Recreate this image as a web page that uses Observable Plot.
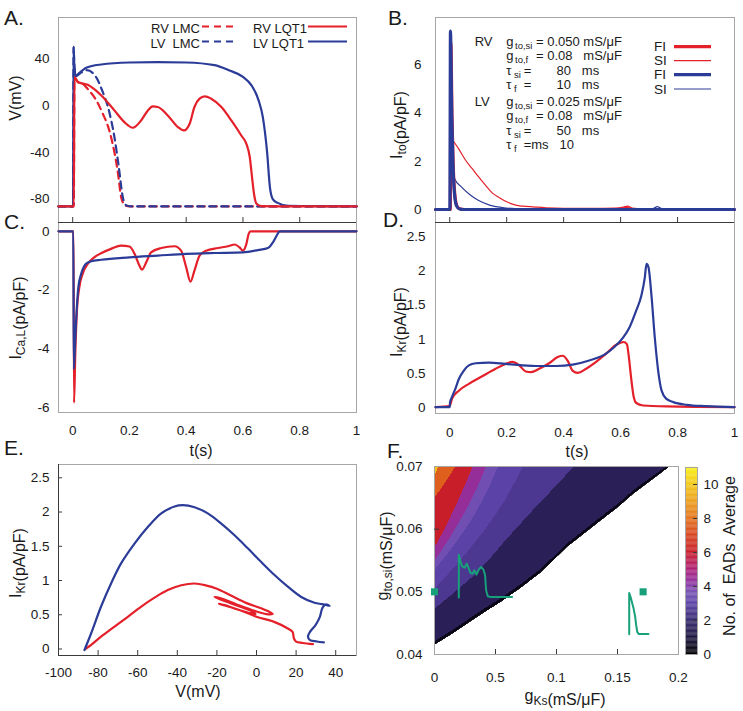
<!DOCTYPE html>
<html><head><meta charset="utf-8">
<script src="https://cdn.jsdelivr.net/npm/d3@7"></script>
<script src="https://cdn.jsdelivr.net/npm/@observablehq/plot@0.6"></script>
<style>
html,body{margin:0;padding:0;background:#fff;}
#fig{position:relative;width:743px;height:711px;overflow:hidden;background:#fff;font-family:'Liberation Sans',Arial,Helvetica,sans-serif;}
#ann{position:absolute;left:0;top:0;pointer-events:none;}
#ann text{white-space:pre;}
</style></head><body><div id="fig"></div>
<script>
// ---------------- DATA ----------------
// Panel A: membrane potential V (mV) vs t (s)
const tA_rvLQT1 = [-0.05, 0.004, 0.006, 0.01, 0.018, 0.053, 0.1, 0.147, 0.182, 0.212, 0.241, 0.265, 0.282, 0.3, 0.335, 0.371, 0.392, 0.412, 0.429, 0.447, 0.465, 0.488, 0.524, 0.559, 0.594, 0.612, 0.624, 0.632, 0.639, 0.647, 0.665, 0.75, 1];
const vA_rvLQT1 = [-86.3, -86.3, 24, 23, 20, 17.5, 8.6, -4.3, -14.3, -19.1, -12.9, -4.3, -0.9, -1.4, -8.6, -18.6, -21.4, -15.7, -1.4, 5.7, 7.7, 5.7, -1.4, -12.9, -25.7, -32.9, -44.3, -61.4, -75.7, -83.7, -86, -86.3, -86.3];
const tA_lvLQT1 = [-0.05, 0.0015, 0.003, 0.006, 0.011, 0.02, 0.05, 0.1, 0.2, 0.3, 0.4, 0.5, 0.55, 0.6, 0.63, 0.655, 0.67, 0.685, 0.695, 0.705, 0.72, 0.76, 1];
const vA_lvLQT1 = [-86.3, -86.3, 50, 33, 25, 27, 32.3, 34.9, 36.6, 36.9, 36.6, 34.3, 30, 24.3, 17.1, 4.3, -10, -40, -70, -80, -83, -85.7, -86.3];
const tA_rvLMC = [-0.05, 0.004, 0.006, 0.01, 0.018, 0.04, 0.055, 0.076, 0.106, 0.129, 0.147, 0.159, 0.171, 0.185, 0.2, 1];
const vA_rvLMC = [-86.3, -86.3, 24, 23, 20, 17.5, 13.4, 7.1, -7.1, -21.4, -40, -57, -78.6, -85.5, -86.3, -86.3];
const tA_lvLMC = [-0.05, 0.0015, 0.003, 0.006, 0.011, 0.03, 0.05, 0.082, 0.1035, 0.129, 0.147, 0.161, 0.178, 0.19, 0.21, 1];
const vA_lvLMC = [-86.3, -86.3, 50, 33, 25, 28, 30, 24.3, 12.9, -5.7, -27, -50, -80, -85.5, -86.3, -86.3];

// Panel B: Ito (pA/pF) vs t (s)
const tB_rvFI = [-0.05, 0.002, 0.004, 0.008, 0.012, 0.018, 0.025, 0.035, 0.05, 0.6, 0.62, 0.64, 1];
const vB_rvFI = [0, 0, 6.9, 3.8, 1.9, 0.6, 0.15, 0.03, 0, 0, 0.05, 0, 0];
const tB_lvFI = [-0.05, 0.0005, 0.0025, 0.007, 0.011, 0.017, 0.024, 0.034, 0.05, 1];
const vB_lvFI = [0, 0, 7.4, 4.0, 2.0, 0.6, 0.15, 0.02, 0, 0];
const tB_rvSI = [-0.05, 0.003, 0.006, 0.012, 0.032, 0.055, 0.079, 0.1, 0.126, 0.15, 0.173, 0.2, 0.22, 0.245, 0.267, 0.3, 0.338, 0.4, 0.5, 0.58, 0.61, 0.625, 0.64, 0.7, 1];
const vB_rvSI = [0, 0, 2.95, 2.85, 2.5, 2.05, 1.69, 1.37, 1.0, 0.68, 0.5, 0.32, 0.22, 0.15, 0.13, 0.1, 0.07, 0.05, 0.05, 0.06, 0.1, 0.14, 0.06, 0.02, 0.01];
const tB_lvSI = [-0.05, 0.001, 0.004, 0.01, 0.018, 0.04, 0.07, 0.1, 0.14, 0.2, 0.26, 0.35, 0.7, 0.718, 0.729, 0.742, 0.76, 1];
const vB_lvSI = [0, 0, 1.9, 1.6, 1.25, 0.95, 0.62, 0.38, 0.18, 0.06, 0.02, 0.01, 0.01, 0.06, 0.12, 0.05, 0.01, 0];

// Panel C: ICa,L (pA/pF) vs t (s)
const tC_rv = [-0.05, 0.003, 0.0047, 0.0094, 0.015, 0.0235, 0.035, 0.053, 0.076, 0.1, 0.135, 0.171, 0.2, 0.218, 0.235, 0.244, 0.259, 0.276, 0.312, 0.359, 0.382, 0.4, 0.415, 0.429, 0.447, 0.47, 0.512, 0.547, 0.571, 0.588, 0.6, 0.612, 0.62, 0.627, 1];
const vC_rv = [0, 0, -5.85, -4.07, -2.7, -1.9, -1.45, -1.11, -0.89, -0.75, -0.6, -0.49, -0.52, -0.77, -1.17, -1.31, -1.06, -0.72, -0.57, -0.51, -0.66, -1.23, -1.72, -1.34, -0.83, -0.66, -0.57, -0.51, -0.45, -0.55, -0.66, -0.43, -0.09, 0, 0];
const tC_lv = [-0.05, 0.002, 0.004, 0.008, 0.012, 0.02, 0.03, 0.047, 0.065, 0.1, 0.2, 0.3, 0.4, 0.5, 0.6, 0.653, 0.688, 0.706, 0.721, 0.729, 1];
const vC_lv = [0, 0, -4.7, -3.9, -3.05, -1.9, -1.45, -1.11, -1.02, -0.97, -0.89, -0.83, -0.77, -0.74, -0.72, -0.64, -0.57, -0.37, -0.11, 0, 0];

// Panel D: IKr (pA/pF) vs t (s)
const tD_rv = [-0.05, 0, 0.008, 0.032, 0.067, 0.114, 0.161, 0.196, 0.22, 0.244, 0.267, 0.285, 0.314, 0.349, 0.379, 0.396, 0.414, 0.432, 0.449, 0.479, 0.514, 0.549, 0.585, 0.611, 0.622, 0.629, 0.638, 0.646, 0.655, 0.679, 0.761, 1];
const vD_rv = [0.01, 0.03, 0.13, 0.25, 0.35, 0.46, 0.57, 0.64, 0.67, 0.62, 0.53, 0.52, 0.57, 0.65, 0.74, 0.76, 0.69, 0.54, 0.51, 0.57, 0.67, 0.79, 0.92, 0.96, 0.93, 0.74, 0.4, 0.16, 0.07, 0.034, 0.02, 0.01];
const tD_lv = [-0.05, 0, 0.001, 0.008, 0.02, 0.032, 0.049, 0.067, 0.091, 0.138, 0.196, 0.255, 0.314, 0.373, 0.432, 0.49, 0.549, 0.579, 0.608, 0.632, 0.655, 0.673, 0.685, 0.691, 0.698, 0.708, 0.72, 0.732, 0.744, 0.761, 0.785, 0.832, 0.9, 1];
const vD_lv = [0.01, 0.01, 0.08, 0.16, 0.28, 0.42, 0.54, 0.62, 0.65, 0.66, 0.64, 0.62, 0.61, 0.61, 0.63, 0.69, 0.79, 0.89, 1.02, 1.18, 1.42, 1.64, 1.9, 2.1, 2.05, 1.66, 1.03, 0.54, 0.25, 0.13, 0.083, 0.044, 0.024, 0.01];

// Panel E: IKr (pA/pF) vs V (mV), in time order
const vE_rv = [28.5, 23.4, 20, 18.9, 18.2, 15.8, 8.6, 0, -5, -12.8, -19, -16, -10, -4, -0.5, -3, -8.6, -15, -21.2, -18, -10, -1.4, 5, 8.2, 6, 2, -5, -12.9, -20, -25.7, -31.3, -38, -44.8, -51.5, -58.2, -65, -71.7, -78.5, -83.5, -86.5];
const iE_rv = [0.07, 0.088, 0.107, 0.155, 0.25, 0.3, 0.4, 0.47, 0.53, 0.61, 0.66, 0.64, 0.58, 0.53, 0.51, 0.56, 0.62, 0.69, 0.76, 0.74, 0.65, 0.56, 0.51, 0.51, 0.55, 0.6, 0.67, 0.78, 0.88, 0.93, 0.956, 0.93, 0.86, 0.75, 0.62, 0.47, 0.325, 0.18, 0.06, 0.0];
const vE_lv = [34.0, 30.5, 27.0, 26.0, 27.0, 29.8, 32.0, 33.3, 35.0, 36.9, 35.5, 33.0, 29.3, 22.6, 15.8, 9.1, 2.4, -4.4, -11.1, -17.8, -24.6, -31.3, -37.2, -41.4, -48.1, -54.9, -61.6, -68.4, -73.4, -78.5, -83.5, -86.9];
const iE_lv = [0.097, 0.11, 0.13, 0.18, 0.25, 0.35, 0.47, 0.6, 0.65, 0.63, 0.64, 0.655, 0.675, 0.76, 0.91, 1.08, 1.27, 1.47, 1.66, 1.83, 1.98, 2.07, 2.1, 2.08, 1.98, 1.78, 1.54, 1.25, 0.96, 0.62, 0.23, -0.015];

// Panel F: EAD map, band boundaries (gKs at each gto,si) and band levels
const fDomainX = [0, 0.2];
const fDomainY = [0.04, 0.07];
const fBandLevels = [0.35, 1.5, 2.6, 3.0, 3.5, 4.4, 6.0, 7.6, 9.8];
const fC0x = [0, 0.014, 0.027, 0.04, 0.054, 0.07, 0.0868, 0.1086, 0.136, 0.15, 0.163, 0.178, 0.193];
const fC0y = [0.0415, 0.0432, 0.0449, 0.0466, 0.0483, 0.0505, 0.053, 0.0571, 0.0613, 0.0634, 0.0656, 0.0678, 0.07];
const fC1x = [0, 0.014, 0.027, 0.04, 0.054, 0.07, 0.0868, 0.1086, 0.136, 0.15, 0.163, 0.177, 0.19];
const fC1y = [0.0421, 0.0438, 0.0455, 0.0472, 0.0489, 0.0511, 0.0536, 0.0577, 0.0619, 0.064, 0.0662, 0.0682, 0.07];
const fC2x = [0, 0.015, 0.03, 0.044, 0.057, 0.071, 0.085, 0.1, 0.114];
const fC2y = [0.0473, 0.0497, 0.0522, 0.055, 0.058, 0.061, 0.064, 0.067, 0.07];
const fC3x = [0, 0.01, 0.02, 0.03, 0.04, 0.049, 0.057, 0.065, 0.072];
const fC3y = [0.0505, 0.0526, 0.0548, 0.0572, 0.0596, 0.0621, 0.0645, 0.0673, 0.07];
const fC4x = [0, 0.015, 0.03, 0.042, 0.052];
const fC4y = [0.0535, 0.0572, 0.0614, 0.0657, 0.07];
const fC5x = [0, 0.012, 0.024, 0.034, 0.042];
const fC5y = [0.055, 0.0585, 0.0625, 0.0663, 0.07];
const fC6x = [0, 0.008, 0.017, 0.025, 0.031];
const fC6y = [0.0572, 0.06, 0.0637, 0.0672, 0.07];
const fC7x = [0, 0.005, 0.01, 0.014, 0.017];
const fC7y = [0.0651, 0.0664, 0.0679, 0.0691, 0.07];
const fC8x = [0, 0.0015, 0.003];
const fC8y = [0.0686, 0.0694, 0.07];
// insets (sketched action potentials) and markers in panel F
const fInsetEADx = [0.01992, 0.01992, 0.02101, 0.02265, 0.02456, 0.02647, 0.0281, 0.02947, 0.0311, 0.03274, 0.03438, 0.03629, 0.0382, 0.04011, 0.04147, 0.04229, 0.04366, 0.04557, 0.06357];
const fInsetEADy = [0.04908, 0.05593, 0.05503, 0.05407, 0.05386, 0.0545, 0.0537, 0.05301, 0.0529, 0.05343, 0.05274, 0.05354, 0.05396, 0.05354, 0.05264, 0.05025, 0.04929, 0.04919, 0.04919];
const fInsetAPx = [0.1596, 0.1596, 0.1607, 0.1618, 0.1632, 0.1645, 0.1653, 0.1662, 0.1673, 0.1754];
const fInsetAPy = [0.04324, 0.04982, 0.04919, 0.04839, 0.04733, 0.046, 0.04467, 0.04361, 0.04329, 0.04329];
const fSquareX = [0, 0.171];
const fSquareY = [0.05, 0.05];

// Ticks
const tTicks = [0, 0.2, 0.4, 0.6, 0.8, 1];
const vTicksA = [-80, -40, 0, 40];
const itoTicks = [0, 2, 4, 6];
const icalTicks = [-6, -4, -2, 0];
const ikrTicks = [0, 0.5, 1, 1.5, 2, 2.5];
const vTicksE = [-100, -80, -60, -40, -20, 0, 20, 40];
const gksTicks = [0, 0.05, 0.1, 0.15, 0.2];
const gksTickLabels = ["0", "0.5", "0.1", "0.15", "0.2"];
const gtoTicks = [0.04, 0.05, 0.06, 0.07];
const eadTicks = [0, 2, 4, 6, 8, 10];
const eadStops = [0, 1, 2, 3, 3.6, 4.3, 5, 6, 7, 8, 9, 10, 11];
const eadColors = ["#000000", "#1d1640", "#36286e", "#5a42a6", "#7552b4", "#92309e", "#ae2078", "#c81e2a", "#d8441e", "#e4721c", "#ec9e1c", "#f2c818", "#f8ee10"];

// ---------------- RENDER ----------------
const FONT = "'Liberation Sans', Arial, Helvetica, sans-serif";
const GRAY = "#a6a6a6", DARK = "#3a3a3a", RED = "#e4202a", BLUE = "#2b3c98", GREEN = "#17a07a";
const fig = document.getElementById("fig");
const rows = (xs, ys) => xs.map((t, i) => ({t, v: ys[i]}));
const colorScale = {type: "linear", domain: eadStops, range: eadColors};
const eadColor = d3.scaleLinear().domain(eadStops).range(eadColors);
const fmt = d => String(d);

function panel({fx0, fx1, fy0, fy1, ml = 55, mr = 6, mt = 4, mb = 30, x, y, color, marks}) {
  const svg = Plot.plot({
    width: fx1 - fx0 + ml + mr, height: fy1 - fy0 + mt + mb,
    marginLeft: ml, marginRight: mr, marginTop: mt, marginBottom: mb,
    x, y, color,
    style: {fontFamily: FONT, fontSize: "13.5px", color: "#1a1a1a", background: "transparent", overflow: "visible"},
    marks
  });
  svg.style.position = "absolute";
  svg.style.left = (fx0 - ml) + "px";
  svg.style.top = (fy0 - mt) + "px";
  svg.style.maxWidth = "none";
  fig.appendChild(svg);
}
const L = (xs, ys, o) => Plot.line(rows(xs, ys), {x: "t", y: "v", strokeWidth: 2.2, ...o});

// A
panel({fx0: 58, fx1: 356, fy0: 17, fy1: 222, mb: 4,
  x: {domain: [-0.05, 1], axis: null}, y: {domain: [-100, 75]},
  marks: [
    Plot.frame({stroke: GRAY}),
    Plot.ruleY([-100], {stroke: DARK}),
    Plot.ruleX(tTicks.slice(0, 5), {insetTop: 200, stroke: DARK}),
    Plot.axisY(vTicksA, {tickSize: 0, tickPadding: 9, label: null, tickFormat: fmt}),
    L(tA_rvLMC, vA_rvLMC, {stroke: RED, strokeDasharray: "7,5", curve: "monotone-x"}),
    L(tA_lvLMC, vA_lvLMC, {stroke: BLUE, strokeDasharray: "7,5", curve: "monotone-x"}),
    L(tA_lvLQT1, vA_lvLQT1, {stroke: BLUE, curve: "monotone-x"}),
    L(tA_rvLQT1, vA_rvLQT1, {stroke: RED, curve: "monotone-x"})
  ]});

// C
panel({fx0: 58, fx1: 356, fy0: 222, fy1: 412,
  x: {domain: [-0.05, 1]}, y: {domain: [-6.18, 0.3]},
  marks: [
    Plot.frame({stroke: GRAY}),
    Plot.ruleY([0.3], {stroke: DARK}),
    Plot.axisY(icalTicks, {tickSize: 0, tickPadding: 9, label: null, tickFormat: fmt}),
    Plot.axisX(tTicks, {tickSize: 0, tickPadding: 13, label: null, tickFormat: fmt}),
    L(tC_rv, vC_rv, {stroke: RED, curve: "monotone-x"}),
    L(tC_lv, vC_lv, {stroke: BLUE, curve: "monotone-x"})
  ]});

// B
panel({fx0: 435, fx1: 734, fy0: 17, fy1: 222, mb: 4, mr: 4,
  x: {domain: [-0.05, 1], axis: null}, y: {domain: [-0.54, 7.96]},
  marks: [
    Plot.frame({stroke: GRAY}),
    Plot.ruleY([-0.54], {stroke: DARK}),
    Plot.ruleX(tTicks.slice(0, 5), {insetTop: 200, stroke: DARK}),
    Plot.axisY(itoTicks, {tickSize: 0, tickPadding: 14, label: null, tickFormat: fmt}),
    L(tB_rvSI, vB_rvSI, {stroke: RED, strokeWidth: 1.2, curve: "monotone-x"}),
    L(tB_lvSI, vB_lvSI, {stroke: BLUE, strokeWidth: 1.2, curve: "monotone-x"}),
    L(tB_rvFI, vB_rvFI, {stroke: RED, strokeWidth: 3.2, curve: "monotone-x"}),
    L(tB_lvFI, vB_lvFI, {stroke: BLUE, strokeWidth: 3.2, curve: "monotone-x"})
  ]});

// D
panel({fx0: 435, fx1: 734, fy0: 222, fy1: 413, mr: 4,
  x: {domain: [-0.05, 1]}, y: {domain: [-0.083, 2.704]},
  marks: [
    Plot.frame({stroke: GRAY}),
    Plot.ruleY([2.704], {stroke: DARK}),
    Plot.axisY(ikrTicks, {tickSize: 0, tickPadding: 10, label: null, tickFormat: fmt}),
    Plot.axisX(tTicks, {tickSize: 0, tickPadding: 14, label: null, tickFormat: fmt}),
    L(tD_rv, vD_rv, {stroke: RED, curve: "monotone-x"}),
    L(tD_lv, vD_lv, {stroke: BLUE, curve: "monotone-x"})
  ]});

// E
panel({fx0: 58, fx1: 356, fy0: 464, fy1: 655,
  x: {domain: [-100, 50.5]}, y: {domain: [-0.095, 2.694]},
  marks: [
    Plot.frame({stroke: GRAY}),
    Plot.ruleY([-0.095], {stroke: DARK}),
    Plot.ruleX([-100], {stroke: DARK}),
    Plot.ruleX(vTicksE.slice(1), {insetTop: 186, stroke: DARK}),
    Plot.ruleY(ikrTicks, {insetRight: 294, stroke: DARK}),
    Plot.axisY(ikrTicks, {tickSize: 0, tickPadding: 9, label: null, tickFormat: fmt}),
    Plot.axisX(vTicksE, {tickSize: 0, tickPadding: 12, label: null, tickFormat: fmt}),
    L(vE_rv, iE_rv, {stroke: RED, curve: "catmull-rom"}),
    L(vE_lv, iE_lv, {stroke: BLUE, curve: "catmull-rom"})
  ]});

// colour bar
const cbStep = 0.05;
panel({fx0: 685, fx1: 697, fy0: 467, fy1: 654, ml: 2, mr: 30, mb: 20,
  x: {domain: [0, 1], axis: null}, y: {domain: [0, 11]}, color: colorScale,
  marks: [
    Plot.rect(d3.range(0, 11, cbStep), {x1: 0, x2: 1, y1: d => d, y2: d => d + cbStep + 0.01, fill: d => d + cbStep / 2}),
    Plot.frame({stroke: GRAY}),
    Plot.ruleY(eadTicks.slice(1), {insetLeft: 8, stroke: DARK}),
    Plot.axisY(eadTicks, {anchor: "right", tickSize: 0, tickPadding: 6, label: null, tickFormat: fmt})
  ]});

// F, in three layers: EAD bands, the no-EAD region, then frame/axes/insets
const fBox = {fx0: 434, fx1: 678, fy0: 466, fy1: 654, ml: 60, mr: 4, mb: 34, x: {domain: fDomainX, axis: null}, y: {domain: fDomainY, axis: null}};
const fBounds = [[fC0x, fC0y], [fC1x, fC1y], [fC2x, fC2y], [fC3x, fC3y], [fC4x, fC4y], [fC5x, fC5y], [fC6x, fC6y], [fC7x, fC7y], [fC8x, fC8y]];
const fPolys = fBounds.map(([xs, ys]) => xs.map((x, i) => [x, ys[i]]).concat([[fDomainX[0], fDomainY[1]]]));
const fBandColors = fBandLevels.map(l => eadColor(l));
function eadFill(x, y) {
  for (let k = fPolys.length - 1; k >= 0; --k) if (d3.polygonContains(fPolys[k], [x, y])) return fBandColors[k];
  return "#ffffff";
}
panel({...fBox, color: {type: "identity"},
  marks: [Plot.raster({x1: fDomainX[0], x2: fDomainX[1], y1: fDomainY[0], y2: fDomainY[1], width: 244, height: 188, fill: eadFill, imageRendering: "pixelated"})]});
const fNoEAD = rows(fC0x, fC0y).concat([{t: fDomainX[1], v: fDomainY[1]}, {t: fDomainX[1], v: fDomainY[0]}, {t: fDomainX[0], v: fDomainY[0]}]);
panel({...fBox, marks: [Plot.line(fNoEAD, {x: "t", y: "v", fill: "#ffffff", stroke: "none"})]});
panel({...fBox, x: {domain: fDomainX}, y: {domain: fDomainY},
  marks: [
    Plot.frame({stroke: GRAY}),
    Plot.ruleX(gksTicks.slice(1, 4), {insetTop: 183, stroke: DARK}),
    Plot.ruleY(gtoTicks.slice(1, 3), {insetRight: 239, stroke: DARK}),
    Plot.axisY(gtoTicks, {tickSize: 0, tickPadding: 12, label: null, tickFormat: fmt}),
    Plot.axisX(gksTicks, {tickSize: 0, tickPadding: 18, label: null, tickFormat: (d, i) => gksTickLabels[i]}),
    Plot.line(rows(fInsetEADx, fInsetEADy), {x: "t", y: "v", stroke: GREEN, strokeWidth: 2}),
    Plot.line(rows(fInsetAPx, fInsetAPy), {x: "t", y: "v", stroke: GREEN, strokeWidth: 2}),
    Plot.dot(rows(fSquareX, fSquareY), {x: "t", y: "v", symbol: "square", fill: GREEN, r: 4})
  ]});

// ---------------- TEXT OVERLAY ----------------
const lsub = s => `<tspan dy="4" font-size="12">${s}</tspan><tspan dy="-4"></tspan>`;
const T = (x, y, c, a = "") => `<text x="${x}" y="${y}" ${a}>${c}</text>`;
const S = (x, y, c) => `<text x="${x}" y="${y + 3}" font-size="9.5">${c}</text>`;
const R = (cx, cy, c) => `<text transform="translate(${cx},${cy}) rotate(-90)" text-anchor="middle" font-size="16">${c}</text>`;
const C = (cx, y, c) => `<text x="${cx}" y="${y}" text-anchor="middle" font-size="16">${c}</text>`;
let s = `<svg id="ann" width="743" height="711" font-family="${FONT}" fill="#1a1a1a">`;
s += `<g font-size="21">` + T(4, 25, "A.") + T(388, 25, "B.") + T(4, 229, "C.") + T(383, 227, "D.") + T(4, 455, "E.") + T(387, 458, "F.") + `</g>`;
s += R(21, 98, `V(mV)`);
s += R(402, 125, `I${lsub("to")}(pA/pF)`);
s += R(21, 318, `I${lsub("Ca,L")}(pA/pF)`);
s += R(402, 322, `I${lsub("Kr")}(pA/pF)`);
s += R(21, 563, `I${lsub("Kr")}(pA/pF)`);
s += R(388, 556, `g${lsub("to,si")}(mS/μF)`);
s += R(735, 556, `No. of  EADs  Average`);
s += C(201, 456, `t(s)`);
s += C(577, 457, `t(s)`);
s += C(198, 697, `V(mV)`);
s += C(565, 701, `g${lsub("Ks")}(mS/μF)`);
s += `<g font-size="13">` + T(200, 32.5, "RV LMC", 'text-anchor="end"') + T(200, 47.5, "LV  LMC", 'text-anchor="end"')
  + T(253, 32.5, "RV LQT1") + T(253, 47.5, "LV LQT1") + `</g>`;
s += `<line x1="202" x2="237" y1="26.5" y2="26.5" stroke="${RED}" stroke-width="2.2" stroke-dasharray="7,5"/>`;
s += `<line x1="308" x2="347" y1="26.5" y2="26.5" stroke="${RED}" stroke-width="2.2"/>`;
s += `<line x1="202" x2="237" y1="41.5" y2="41.5" stroke="${BLUE}" stroke-width="2.2" stroke-dasharray="7,5"/>`;
s += `<line x1="308" x2="347" y1="41.5" y2="41.5" stroke="${BLUE}" stroke-width="2.2"/>`;
s += `<g font-size="13.5">` + T(654, 51, "FI") + T(654, 65, "SI") + T(654, 79.3, "FI") + T(654, 94, "SI") + `</g>`;
s += `<line x1="674" x2="711" y1="46.7" y2="46.7" stroke="${RED}" stroke-width="3.2"/>`;
s += `<line x1="674" x2="711" y1="60.7" y2="60.7" stroke="${RED}" stroke-width="1.2"/>`;
s += `<line x1="674" x2="711" y1="74.7" y2="74.7" stroke="${BLUE}" stroke-width="3.2"/>`;
s += `<line x1="674" x2="711" y1="89" y2="89" stroke="${BLUE}" stroke-width="1.2"/>`;
s += `<g font-size="13">`;
s += T(474.7, 46, "RV") + T(506.3, 46, "g") + S(515, 46, "to,si") + T(536, 46, "= 0.050 mS/μF");
s += T(506.3, 60, "g") + S(515, 60, "to,f") + T(536, 60, "= 0.08   mS/μF");
s += T(506.3, 75, "τ") + S(514, 75, "si") + T(523.7, 75, "=       80   ms");
s += T(506.3, 89, "τ") + S(514, 89, "f") + T(523.7, 89, "=       10   ms");
s += T(474.7, 106, "LV") + T(506.3, 106, "g") + S(515, 106, "to,si") + T(536, 106, "= 0.025 mS/μF");
s += T(506.3, 120, "g") + S(515, 120, "to,f") + T(536, 120, "= 0.08   mS/μF");
s += T(506.3, 135, "τ") + S(514, 135, "si") + T(523.7, 135, "=       50   ms");
s += T(506.3, 149, "τ") + S(514, 149, "f") + T(523.7, 149, "=ms   10");
s += `</g></svg>`;
fig.insertAdjacentHTML("beforeend", s);
</script></body></html>
